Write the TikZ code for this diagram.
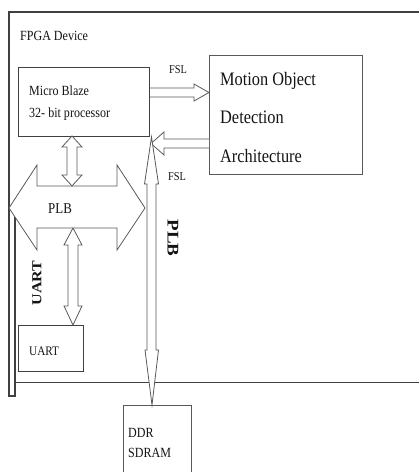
\documentclass[tikz,border=0pt]{standalone}
\usepackage{fontspec}
\setmainfont{Liberation Serif}
\newcommand{\nrw}[1]{\scalebox{0.86}[1]{#1}}
\newcommand{\nrh}[1]{\scalebox{1}[0.86]{#1}}
\tikzset{
  box/.style={draw=black!75, line width=1.2pt, inner sep=0pt, anchor=north west},
  lbl/.style={inner sep=0pt, anchor=base west, text=black!92},
  rlbl/.style={inner sep=0pt, text=black!92},
  barrow/.style={draw=black!65, line width=0.8pt, fill=white, line join=miter},
  border/.style={draw=black!75, line width=1.4pt},
}
\begin{document}
\begin{tikzpicture}[x=1pt,y=-1pt]
\clip (0,0) rectangle (419,472);
\fill[white] (0,0) rectangle (419,472);
% outer FPGA border
\draw[border] (419,12) -- (9,12) -- (9,396) -- (15,396) -- (15,214);
\draw[border] (15,382.5) -- (419,382.5);
% boxes
\node[box, minimum width=131pt, minimum height=69pt] (mb) at (18,67) {};
\node[box, draw=black!65, minimum width=153pt, minimum height=119pt] (mod) at (209,55) {};
\node[box, minimum width=65pt, minimum height=46pt] (uart) at (18,325) {};
\node[box, draw=black!65, line width=1pt, minimum width=68pt, minimum height=80pt] (ddr) at (123,405) {};
% PLB block arrow
\draw[barrow] (9,208) -- (37,165) -- (37,186) -- (117,186) -- (117,165) -- (145,208)
  -- (117,250) -- (117,228) -- (37,228) -- (37,250) -- cycle;
% FSL arrows
\draw[barrow] (mb.east |- 0,88) -- (194,88) -- (194,84) -- (mod.west |- 0,92.5) -- (194,101) -- (194,97) -- (mb.east |- 0,97);
\draw[barrow] (mod.west |- 0,139) -- (164,139) -- (164,132) -- (151,143.5) -- (164,155) -- (164,148) -- (mod.west |- 0,148);
% MicroBlaze <-> PLB
\draw[barrow] (72,136) -- (82,147) -- (77,147) -- (77,175) -- (82,175) -- (72,186)
  -- (62,175) -- (67,175) -- (67,147) -- (62,147) -- cycle;
% PLB <-> UART
\draw[barrow] (73,228) -- (82,245) -- (78,245) -- (78,306) -- (82,306) -- (73,325)
  -- (64,306) -- (68,306) -- (68,245) -- (64,245) -- cycle;
% long PLB <-> DDR
\draw[barrow] (151.5,137) -- (158.5,184) -- (156,184) -- (156,350) -- (158.5,350) -- (152,405)
  -- (145,350) -- (147,350) -- (147,184) -- (144.5,184) -- cycle;
% labels
\node[lbl, font=\fontsize{14}{14}\selectfont] (tfpga) at (20,40) {\nrw{FPGA Device}};
\node[lbl, font=\fontsize{12}{12}\selectfont] (tfsl1) at (169,73) {\nrw{FSL}};
\node[lbl, font=\fontsize{12}{12}\selectfont] (tfsl2) at (168,180) {\nrw{FSL}};
\node[lbl, font=\fontsize{14}{14}\selectfont] (tmb1) at (29,95) {\nrw{Micro Blaze}};
\node[lbl, font=\fontsize{14}{14}\selectfont] (tmb2) at (29,117) {\nrw{32- bit processor}};
\node[lbl, font=\fontsize{19}{19}\selectfont] (tmo1) at (220,85) {\nrw{Motion Object}};
\node[lbl, font=\fontsize{19}{19}\selectfont] (tmo2) at (220,123) {\nrw{Detection}};
\node[lbl, font=\fontsize{19}{19}\selectfont] (tmo3) at (220,162) {\nrw{Architecture}};
\node[lbl, font=\fontsize{15}{15}\selectfont] (tplb) at (48,213) {\nrw{PLB}};
\node[rlbl, font=\fontsize{16}{16}\selectfont\bfseries, rotate=90] (tuartv) at (37,283) {\nrh{UART}};
\node[rlbl, font=\fontsize{19}{19}\selectfont\bfseries, rotate=-90] (tplbv) at (173,238) {\nrh{PLB}};
\node[lbl, font=\fontsize{13}{13}\selectfont] (tuart) at (29,355) {\nrw{UART}};
\node[lbl, font=\fontsize{14}{14}\selectfont] (tddr1) at (128,437) {\nrw{DDR}};
\node[lbl, font=\fontsize{14}{14}\selectfont] (tddr2) at (128,457) {\nrw{SDRAM}};
\end{tikzpicture}
\end{document}
